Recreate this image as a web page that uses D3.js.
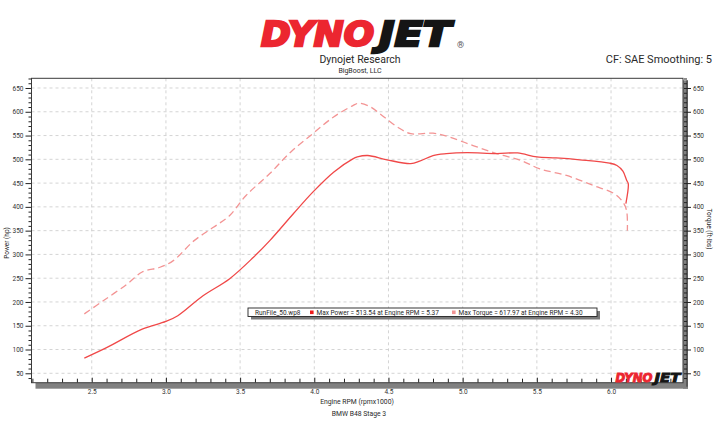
<!DOCTYPE html>
<html><head><meta charset="utf-8">
<script src="https://cdn.jsdelivr.net/npm/d3@7/dist/d3.min.js"></script>
<style>
body{margin:0;background:#fff}
svg{display:block}
text{font-family:Roboto,"Liberation Sans",sans-serif;fill:#2a2a2a}
</style>
</head><body>
<svg id="c" width="720" height="440"></svg>
<script>
// ---- data ----
const powerRpm = [2.45,2.60,2.84,3.00,3.08,3.25,3.43,3.59,3.70,3.86,3.99,4.13,4.26,4.29,4.36,4.49,4.65,4.71,4.80,4.89,5.03,5.23,5.37,5.50,5.63,5.79,5.99,6.04,6.08,6.105,6.116,6.10];
const powerHp  = [82,104,143,159,171,213,249,294,329,386,431,473,501,505,508,499,491,496,508,512,514,512,513.5,505,503,499,492,487,475,456,449,407];
const torqueRpm = [2.45,2.58,2.74,2.84,2.96,3.05,3.19,3.32,3.43,3.54,3.70,3.84,3.99,4.13,4.26,4.30,4.38,4.47,4.56,4.65,4.80,4.91,5.07,5.23,5.39,5.52,5.70,5.88,6.02,6.08,6.105,6.11];
const torqueFtLb = [175,203,238,263,273,287,329,357,382,424,470,515,554,589,613,618,610,589,568,554,555,547,529,512,498,480,466,445,428,410,392,350];
const yTicks = [50,100,150,200,250,300,350,400,450,500,550,600,650];
const xTicks = [2.5,3.0,3.5,4.0,4.5,5.0,5.5,6.0];
const xTickLabels = ["2.5","3.0","3.5","4.0","4.5","5.0","5.5","6.0"];
const legendRun = "RunFile_50.wp8";
const legendLabels = ["Max Power = 513.54 at Engine RPM = 5.37","Max Torque = 617.97 at Engine RPM = 4.30"];

const powerColor = "#f04848", torqueColor = "#f39494";
const logoRed = "#ec2630", logoBlack = "#151515";

const svg = d3.select("#c");
const L = 31.5, R = 683, T = 78.3, B = 382.7;
const x = d3.scaleLinear().domain([2.094, 6.485]).range([L, R]);
const y = d3.scaleLinear().domain([30.2, 670.4]).range([B, T]);

function logoText(g, xPos, yPos, txt, len, size, color, sw){
  g.append("text").attr("x",xPos).attr("y",yPos).text(txt)
    .attr("textLength",len).attr("lengthAdjust","spacingAndGlyphs")
    .style("font-family","'DejaVu Sans',sans-serif").style("font-weight","bold").style("font-style","italic")
    .style("font-size",size+"px").style("fill",color)
    .style("stroke",color).style("stroke-width",sw).style("stroke-linejoin","miter");
}

// header
const logo = svg.append("g");
logoText(logo, 261, 45.5, "DYNO", 113, 34, logoRed, 2.4);
logoText(logo, 379, 45.5, "JET", 72, 34, logoBlack, 2.4);
logo.append("text").attr("x",460.5).attr("y",48).attr("text-anchor","middle").text("®")
  .style("font-size","9px").style("fill","#555");

svg.append("text").attr("x",360).attr("y",63).attr("text-anchor","middle").text("Dynojet Research").style("font-size","10.5px");
svg.append("text").attr("x",360).attr("y",73).attr("text-anchor","middle").text("BigBoost, LLC").style("font-size","7px");
svg.append("text").attr("x",712).attr("y",63).attr("text-anchor","end").text("CF: SAE Smoothing: 5").style("font-size","11px");

// shadows
svg.append("rect").attr("x",R).attr("y",T+2).attr("width",5).attr("height",B-T+4).attr("fill","#808080");
svg.append("rect").attr("x",L+4).attr("y",B).attr("width",R-L+1).attr("height",6).attr("fill","#808080");

// plot area
svg.append("rect").attr("x",L).attr("y",T).attr("width",R-L).attr("height",B-T).attr("fill","#fff");

// grid
const grid = svg.append("g").attr("stroke","#c9c9c9").attr("stroke-width",0.8).attr("stroke-dasharray","3,3");
grid.selectAll("line.h").data(yTicks).join("line").attr("class","h")
  .attr("x1",L).attr("x2",R).attr("y1",d=>y(d)).attr("y2",d=>y(d));
grid.selectAll("line.v").data(xTicks).join("line").attr("class","v")
  .attr("x1",d=>x(d)).attr("x2",d=>x(d)).attr("y1",T).attr("y2",B);

// axes
const minorY = d3.range(40, 671, 10).filter(v => v % 50 !== 0);
const minorX = d3.range(21, 65, 1).map(v => v/10).filter(v => Math.round(v*10) % 5 !== 0);

function styleAxis(g){
  g.select(".domain").remove();
  g.selectAll("line").attr("stroke","#222");
  g.selectAll("text").style("font-size","6.5px").style("fill","#333");
}
svg.append("g").attr("transform",`translate(${L},0)`)
  .call(d3.axisLeft(y).tickValues(yTicks).tickSize(6).tickPadding(2)).call(styleAxis);
svg.append("g").attr("transform",`translate(${L},0)`)
  .call(d3.axisLeft(y).tickValues(minorY).tickSize(3).tickFormat("")).call(styleAxis);

svg.append("line").attr("x1",687).attr("x2",687).attr("y1",T+2).attr("y2",B+4).attr("stroke","#333");
svg.append("g").attr("transform",`translate(${R+1},0)`)
  .call(d3.axisRight(y).tickValues(yTicks).tickSize(7).tickPadding(2)).call(styleAxis);
svg.append("g").attr("transform",`translate(${R+1},0)`)
  .call(d3.axisRight(y).tickValues(minorY).tickSize(3).tickFormat("")).call(styleAxis);

svg.append("g").attr("transform",`translate(0,${B})`)
  .call(d3.axisBottom(x).tickValues(xTicks).tickFormat((d,i)=>xTickLabels[i]).tickSizeInner(-5).tickSizeOuter(0).tickPadding(6.5))
  .call(styleAxis);
svg.append("g").attr("transform",`translate(0,${B})`)
  .call(d3.axisBottom(x).tickValues(minorX).tickFormat("").tickSizeInner(-4).tickSizeOuter(0))
  .call(styleAxis);

// frame
svg.append("rect").attr("x",L).attr("y",T).attr("width",R-L).attr("height",B-T)
  .attr("fill","none").attr("stroke","#3a3a3a").attr("stroke-width",1);

// curves
const line = d3.line().x(d=>x(d[0])).y(d=>y(d[1])).curve(d3.curveCatmullRom.alpha(0.5));
svg.append("path").datum(torqueRpm.map((r,i)=>[r,torqueFtLb[i]])).attr("d",line)
  .attr("fill","none").attr("stroke",torqueColor).attr("stroke-width",1.3).attr("stroke-dasharray","7,4");
svg.append("path").datum(powerRpm.map((r,i)=>[r,powerHp[i]])).attr("d",line)
  .attr("fill","none").attr("stroke",powerColor).attr("stroke-width",1.3);

// axis titles
svg.append("text").attr("transform","translate(9,243) rotate(-90)").attr("text-anchor","middle")
  .text("Power (hp)").style("font-size","6.5px");
svg.append("text").attr("transform","translate(707,229) rotate(90)").attr("text-anchor","middle")
  .text("Torque (ft·lbs)").style("font-size","6.5px");
svg.append("text").attr("x",357).attr("y",404).attr("text-anchor","middle")
  .text("Engine RPM (rpmx1000)").style("font-size","6.8px");
svg.append("text").attr("x",359).attr("y",416).attr("text-anchor","middle")
  .text("BMW B48 Stage 3").style("font-size","6.8px");

// legend
const lg = svg.append("g");
lg.append("rect").attr("x",251).attr("y",311).attr("width",349).attr("height",8.5).attr("fill","#7a7a7a");
lg.append("rect").attr("x",248).attr("y",308).attr("width",349).attr("height",8.5).attr("fill","#fff").attr("stroke","#222").attr("stroke-width",0.9);
lg.append("text").attr("x",255).attr("y",314.8).text(legendRun).style("font-size","6.5px");
const sqX = [310, 452], txX = [316.5, 458.5], sqC = ["#ee1c1c", "#f29595"];
legendLabels.forEach((t,i)=>{
  lg.append("rect").attr("x",sqX[i]).attr("y",310.5).attr("width",3.6).attr("height",3.6).attr("fill",sqC[i]);
  lg.append("text").attr("x",txX[i]).attr("y",314.8).text(t).style("font-size","6.5px");
});

// small logo
const sl = svg.append("g");
logoText(sl, 615.5, 382, "DYNO", 37, 12, logoRed, 0.9);
logoText(sl, 654.5, 382, "JET", 26, 12, logoBlack, 0.9);
</script>
</body></html>
